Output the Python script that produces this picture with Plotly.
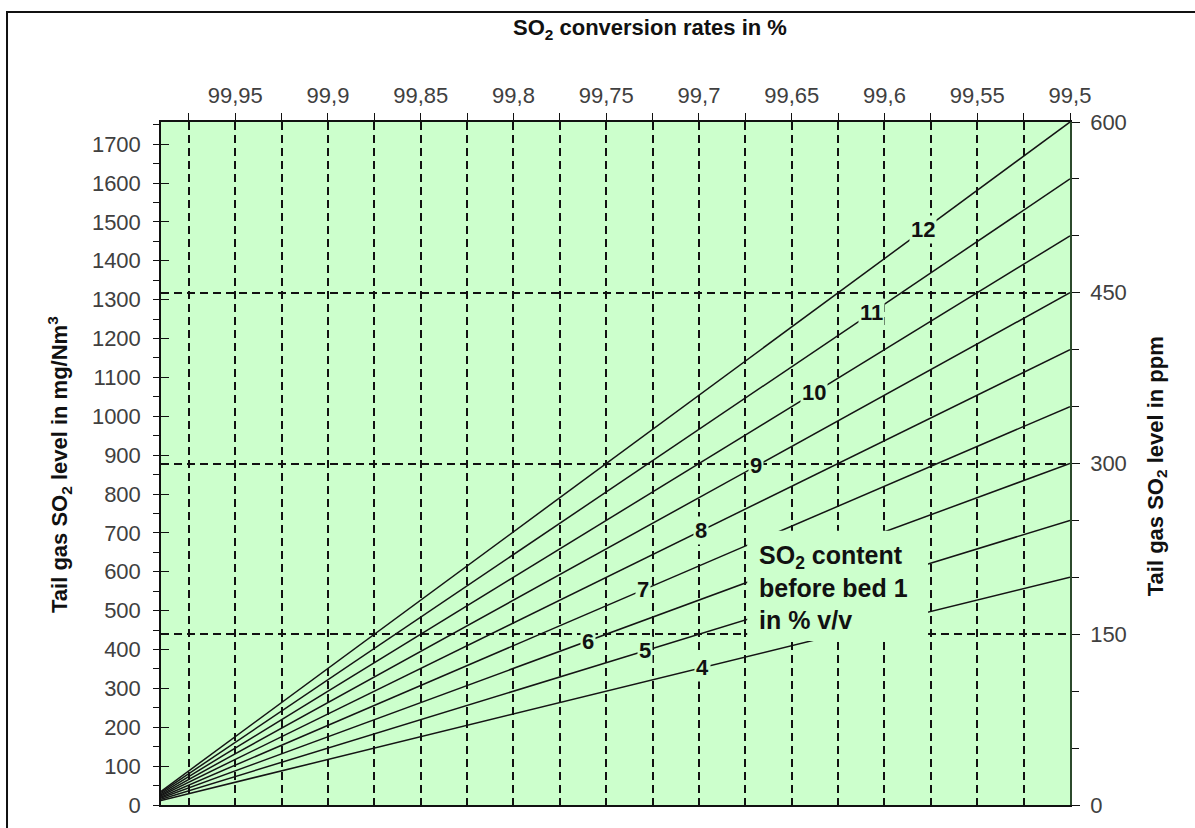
import plotly.graph_objects as go

# SO2 content before bed 1 (% v/v) and the tail-gas level at both ends of each line
so2_content = [4, 5, 6, 7, 8, 9, 10, 11, 12]
conversion_ends = [99.99, 99.5]
tail_ppm_start = [4, 5, 6, 7, 8, 9, 10, 11, 12]
tail_ppm_end = [200, 250, 300, 350, 400, 450, 500, 550, 600]

# where each line carries its number (conversion rate in %)
label_conversion = [99.698, 99.729, 99.760, 99.730, 99.699, 99.669, 99.638, 99.607, 99.579]

# top axis: a tick every 0.025 %, labelled every 0.05 %
conv_ticks = [99.5, 99.525, 99.55, 99.575, 99.6, 99.625, 99.65, 99.675, 99.7, 99.725,
              99.75, 99.775, 99.8, 99.825, 99.85, 99.875, 99.9, 99.925, 99.95, 99.975]
conv_tick_text = ["99,5", "", "99,55", "", "99,6", "", "99,65", "", "99,7", "",
                  "99,75", "", "99,8", "", "99,85", "", "99,9", "", "99,95", ""]

mg_range = [0, 1757]
ppm_range = [0, 600]
ppm_ticks = [0, 150, 300, 450, 600]
conv_range = [99.99, 99.5]

BG = "#CCFFCC"
INK = "#111111"
FONT = "Arial, Liberation Sans, sans-serif"
TICK_FONT = dict(family=FONT, size=22, color="#404040")
GRID_DASH = "8px,5px"

fig = go.Figure()

# invisible anchors so that every helper axis is rendered
for xa, ya in [("x", "y"), ("x2", "y"), ("x3", "y"), ("x", "y3")]:
    fig.add_trace(go.Scatter(
        x=conv_range, y=mg_range, mode="markers", marker=dict(size=1, opacity=0),
        xaxis=xa, yaxis=ya, showlegend=False, hoverinfo="skip",
    ))

for c, y0, y1 in zip(so2_content, tail_ppm_start, tail_ppm_end):
    fig.add_trace(go.Scatter(
        x=conversion_ends, y=[y0, y1], mode="lines",
        line=dict(color="#141414", width=1.5),
        xaxis="x", yaxis="y2", showlegend=False, hoverinfo="skip",
        name=f"{c} % v/v",
    ))

# number labels sitting on their lines
span = conversion_ends[0] - conversion_ends[1]
for c, y0, y1, xc in zip(so2_content, tail_ppm_start, tail_ppm_end, label_conversion):
    yl = y0 + (y1 - y0) * (conversion_ends[0] - xc) / span
    fig.add_annotation(
        x=xc, y=yl, xref="x", yref="y2", text=f"<b>{c}</b>", showarrow=False,
        font=dict(family=FONT, size=22, color=INK),
        bgcolor=BG, borderpad=1,
    )

# panel holding the explanatory text
fig.add_shape(type="rect", xref="x", yref="y2", x0=99.674, x1=99.5765, y0=144, y1=241,
              fillcolor=BG, line=dict(width=0), layer="above")
fig.add_annotation(
    x=99.6686, y=191, xref="x", yref="y2", xanchor="left", yanchor="middle", align="left",
    text="<b>SO<sub>2</sub> content<br>before bed 1<br>in % v/v</b>", showarrow=False,
    font=dict(family=FONT, size=25, color=INK),
)

# axis titles
fig.add_annotation(x=0.538, y=1.136, xref="paper", yref="paper", showarrow=False,
                   xanchor="center", yanchor="middle",
                   text="<b>SO<sub>2</sub> conversion rates in %</b>",
                   font=dict(family=FONT, size=22, color=INK))
fig.add_annotation(x=-0.111, y=0.498, xref="paper", yref="paper", showarrow=False, textangle=-90,
                   xanchor="center", yanchor="middle",
                   text="<b>Tail gas SO<sub>2</sub> level in mg/Nm<sup>3</sup></b>",
                   font=dict(family=FONT, size=22, color=INK))
fig.add_annotation(x=1.0957, y=0.496, xref="paper", yref="paper", showarrow=False, textangle=-90,
                   xanchor="center", yanchor="middle",
                   text="<b>Tail gas SO<sub>2</sub> level in ppm</b>",
                   font=dict(family=FONT, size=22, color=INK))

# outer frame
fig.add_shape(type="rect", xref="paper", yref="paper", x0=-0.1694, y0=1.161, x1=1.3, y1=-0.2,
              line=dict(color=INK, width=2), fillcolor="rgba(0,0,0,0)", layer="above")

fig.update_layout(
    width=1195, height=828,
    margin=dict(l=161, r=125, t=122, b=23, autoexpand=False),
    paper_bgcolor="white", plot_bgcolor=BG,
    showlegend=False,
    xaxis=dict(
        range=conv_range, side="top", anchor="y",
        tickmode="array", tickvals=conv_ticks, ticktext=conv_tick_text,
        ticks="outside", ticklen=7, tickwidth=1.3, tickcolor=INK,
        tickfont=TICK_FONT, ticklabelstandoff=1,
        showline=True, linecolor=INK, linewidth=1.5,
        showgrid=True, gridcolor=INK, gridwidth=1.6, griddash=GRID_DASH,
        zeroline=False,
    ),
    xaxis2=dict(
        range=conv_range, overlaying="x", side="top", anchor="y",
        tickmode="array", tickvals=conv_ticks, showticklabels=False,
        ticks="inside", ticklen=6, tickwidth=1.3, tickcolor=INK,
        showline=False, showgrid=False, zeroline=False,
    ),
    xaxis3=dict(
        range=conv_range, overlaying="x", side="bottom", anchor="y",
        showticklabels=False, ticks="", showline=True, linecolor=INK, linewidth=1.5,
        showgrid=False, zeroline=False,
    ),
    yaxis=dict(
        range=mg_range, side="left", anchor="x",
        tick0=0, dtick=100, ticks="outside", ticklen=6, tickwidth=1.3, tickcolor=INK,
        minor=dict(dtick=50, tick0=0, ticks="outside", ticklen=6, tickwidth=1.2, tickcolor=INK),
        tickfont=TICK_FONT, ticklabelstandoff=8,
        showline=True, linecolor=INK, linewidth=1.5,
        showgrid=False, zeroline=False,
    ),
    yaxis3=dict(
        range=mg_range, overlaying="y", side="left", anchor="x",
        tick0=0, dtick=100, ticks="inside", ticklen=8, tickwidth=1.3, tickcolor=INK,
        showticklabels=False, showline=False, showgrid=False, zeroline=False,
    ),
    yaxis2=dict(
        range=ppm_range, overlaying="y", side="right", anchor="x",
        tickmode="array", tickvals=ppm_ticks,
        ticks="outside", ticklen=8, tickwidth=1.3, tickcolor=INK,
        minor=dict(dtick=50, tick0=0, ticks="outside", ticklen=7, tickwidth=1.2, tickcolor=INK),
        tickfont=TICK_FONT, ticklabelstandoff=6,
        showline=True, linecolor="#2c4a2c", linewidth=1.5,
        showgrid=True, gridcolor=INK, gridwidth=1.6, griddash=GRID_DASH,
        zeroline=False,
    ),
)

fig.write_html("out.html")
